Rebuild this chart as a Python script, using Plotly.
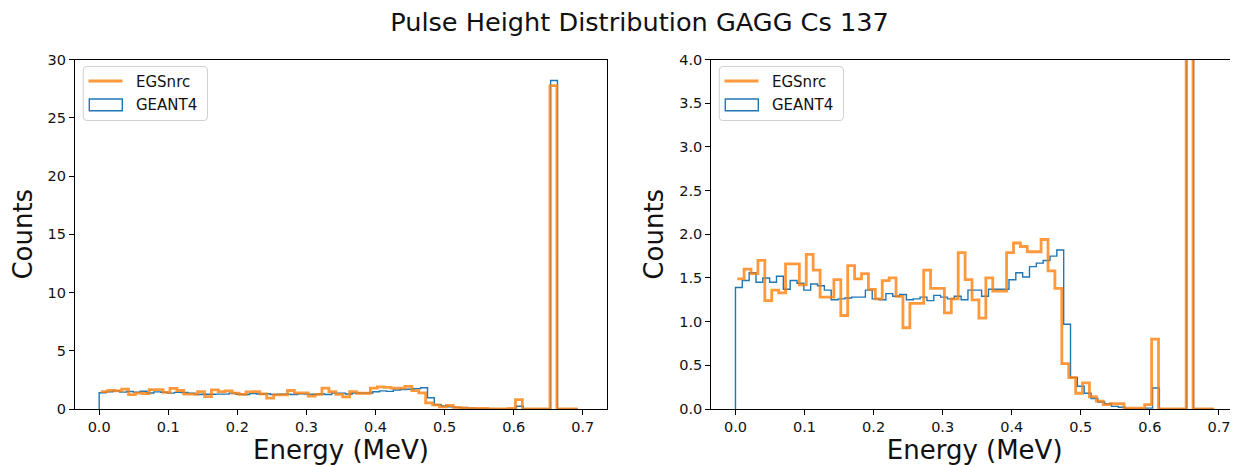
import numpy as np
import plotly.graph_objects as go

# ---------------- data ----------------
# GEANT4 histogram (step outline), equal-width bins starting at 0 MeV
geant4_bin_start = 0.0
geant4_bin_width = 0.0099
geant4_counts = [
    1.39, 1.47, 1.56, 1.45, 1.50, 1.45, 1.52, 1.37, 1.47, 1.44,
    1.36, 1.43, 1.41, 1.36, 1.25, 1.26, 1.27, 1.28, 1.28, 1.36,
    1.26, 1.25, 1.32, 1.29, 1.31, 1.25, 1.26, 1.28, 1.24, 1.30,
    1.28, 1.26, 1.29, 1.25, 1.36, 1.36, 1.29, 1.37, 1.37, 1.37,
    1.48, 1.56, 1.51, 1.63, 1.67, 1.70, 1.75, 1.82, 0.97, 0.36,
    0.26, 0.18, 0.12, 0.08, 0.06, 0.03, 0.02, 0.00, 0.00, 0.00,
    0.01, 0.24, 0.00, 0.00, 0.00, 0.00, 28.2, 0.00, 0.00, 0.00,
]

# EGSnrc spectrum (step line), equal-width bins starting at 0.0025 MeV
egs_bin_start = 0.0025
egs_bin_width = 0.01
egs_counts = [
    1.49, 1.60, 1.55, 1.70, 1.24, 1.36, 1.33, 1.66, 1.66, 1.42,
    1.77, 1.59, 1.28, 1.28, 1.48, 1.07, 1.64, 1.49, 1.55, 1.37,
    1.26, 1.47, 1.50, 1.29, 0.93, 1.21, 1.21, 1.59, 1.38, 1.38,
    1.10, 1.26, 1.79, 1.48, 1.25, 1.04, 1.50, 1.35, 1.35, 1.79,
    1.90, 1.86, 1.80, 1.80, 1.94, 1.58, 1.38, 0.52, 0.36, 0.18,
    0.30, 0.14, 0.09, 0.05, 0.06, 0.06, 0.01, 0.01, 0.01, 0.05,
    0.80, 0.00, 0.00, 0.00, 0.00, 27.75, 0.00, 0.00, 0.00,
]

x_ticks = [0.0, 0.1, 0.2, 0.3, 0.4, 0.5, 0.6, 0.7]
y_ticks_full = [0, 5, 10, 15, 20, 25, 30]
y_ticks_zoom = [0.0, 0.5, 1.0, 1.5, 2.0, 2.5, 3.0, 3.5, 4.0]

series_names = ["EGSnrc", "GEANT4"]
title_text = "Pulse Height Distribution GAGG Cs 137"
x_label = "Energy (MeV)"
y_label = "Counts"

# ---------------- derived step paths ----------------
g_edges = geant4_bin_start + geant4_bin_width * np.arange(len(geant4_counts) + 1)
g_x = np.concatenate([[g_edges[0]], g_edges])
g_y = np.concatenate([[0.0], geant4_counts, [0.0]])

e_edges = egs_bin_start + egs_bin_width * np.arange(len(egs_counts) + 1)
e_x = e_edges
e_y = np.concatenate([egs_counts, [egs_counts[-1]]])

# ---------------- styling ----------------
OFF = 8  # page body margin
W, H = 1238 - OFF, 465 - OFF
FONT = "DejaVu Sans"
BLUE = "#1f77b4"
ORANGE = "rgba(255,127,14,0.8)"


def px(x):
    return (x - OFF) / W


def py(y):
    return 1 - (y - OFF) / H


fig = go.Figure()

for xa, ya in (("x", "y"), ("x2", "y2")):
    fig.add_trace(go.Scatter(x=g_x, y=g_y, mode="lines", line_shape="hv",
                             line=dict(color=BLUE, width=1.4),
                             name=series_names[1], showlegend=False,
                             xaxis=xa, yaxis=ya, hoverinfo="skip"))
    fig.add_trace(go.Scatter(x=e_x, y=e_y, mode="lines", line_shape="hv",
                             line=dict(color=ORANGE, width=2.8),
                             name=series_names[0], showlegend=False,
                             xaxis=xa, yaxis=ya, hoverinfo="skip"))

y_dom = [py(409), py(59.5)]

axis_common = dict(
    showline=True, linecolor="black", linewidth=1.1,
    ticks="outside", ticklen=5, tickwidth=1.1, tickcolor="black",
    showgrid=False, zeroline=False, automargin=False,
    tickfont=dict(family=FONT, size=14.5, color="#111"),
    title_font=dict(family=FONT, size=26, color="#111"),
)

fig.update_layout(
    width=W, height=H,
    margin=dict(l=0, r=0, t=0, b=0, pad=0),
    paper_bgcolor="white", plot_bgcolor="white",
    showlegend=False,
    title=dict(text=title_text, x=px(639.5), y=py(22), xref="container",
               yref="container", xanchor="center", yanchor="middle",
               automargin=False,
               font=dict(family=FONT, size=25.6, color="#111")),
    xaxis=dict(domain=[px(75), px(607)], range=[-0.035, 0.735], anchor="y",
               tickvals=x_ticks, tickformat=".1f", mirror=True,
               title=dict(text=x_label, standoff=8), **axis_common),
    yaxis=dict(domain=y_dom, range=[0, 30], anchor="x",
               tickvals=y_ticks_full, mirror=True,
               title=dict(text=y_label, standoff=8), **axis_common),
    xaxis2=dict(domain=[px(711.3), 1.0], range=[-0.035, 0.7276], anchor="y2",
                tickvals=x_ticks, tickformat=".1f", mirror=True,
                title=dict(text=x_label, standoff=8), **axis_common),
    yaxis2=dict(domain=y_dom, range=[0, 4], anchor="x2",
                tickvals=y_ticks_zoom, tickformat=".1f", mirror=False,
                title=dict(text=y_label, standoff=8), **axis_common),
)


def rounded_rect(x0, y0, x1, y1, r):
    X0, X1 = px(x0), px(x1)
    Y0, Y1 = py(y0), py(y1)
    rx, ry = r / W, r / H
    return (f"M {X0+rx},{Y0} L {X1-rx},{Y0} Q {X1},{Y0} {X1},{Y0-ry} "
            f"L {X1},{Y1+ry} Q {X1},{Y1} {X1-rx},{Y1} L {X0+rx},{Y1} "
            f"Q {X0},{Y1} {X0},{Y1+ry} L {X0},{Y0-ry} Q {X0},{Y0} {X0+rx},{Y0} Z")


shapes = []
annotations = []
for ox in (0.0, 636.0):  # legend offset for left/right panel
    shapes.append(dict(type="path", xref="paper", yref="paper",
                       path=rounded_rect(83.3 + ox, 66.5, 207.5 + ox, 120.5, 3.5),
                       line=dict(color="#d0d0d0", width=1),
                       fillcolor="rgba(255,255,255,0.8)", layer="above"))
    shapes.append(dict(type="line", xref="paper", yref="paper",
                       x0=px(88.5 + ox), x1=px(122.5 + ox), y0=py(81), y1=py(81),
                       line=dict(color=ORANGE, width=2.8), layer="above"))
    shapes.append(dict(type="rect", xref="paper", yref="paper",
                       x0=px(89.3 + ox), x1=px(122.3 + ox), y0=py(99), y1=py(110.7),
                       line=dict(color=BLUE, width=1.4),
                       fillcolor="rgba(0,0,0,0)", layer="above"))
    for name, yy in zip(series_names, (81.5, 104.5)):
        annotations.append(dict(text=name, xref="paper", yref="paper",
                                x=px(133.5 + ox), y=py(yy), xanchor="left",
                                yanchor="middle", showarrow=False,
                                font=dict(family=FONT, size=15, color="#111")))

fig.update_layout(shapes=shapes, annotations=annotations)

fig.write_html("out.html")
